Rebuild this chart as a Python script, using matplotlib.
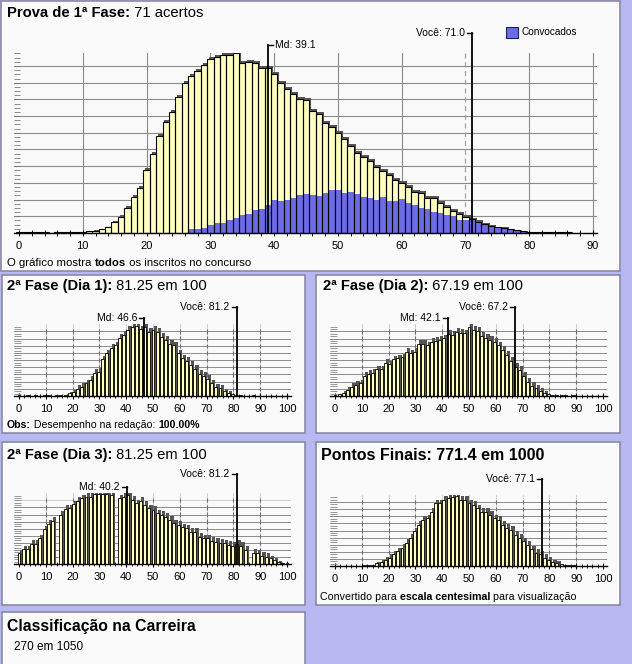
import matplotlib
matplotlib.use('Agg')
import matplotlib.pyplot as plt
from matplotlib.patches import Rectangle
from matplotlib.ticker import MultipleLocator, FixedLocator
import numpy as np

plt.rcParams['font.family'] = ['Liberation Sans', 'DejaVu Sans']

# ---------------- data ----------------
main_scores = list(range(87))
main_total = [0.03, 0.08, 0.03, 0.03, 0.08, 0.02, 0.04, 0.06, 0.06, 0.06,
              0.08, 0.10, 0.14, 0.22, 0.34, 0.64, 0.98, 1.52, 2.15, 2.67,
              3.77, 4.71, 5.81, 6.65, 7.23, 8.12, 8.96, 9.38, 9.70, 10.04,
              10.40, 10.54, 10.64, 10.68, 10.76, 10.16, 10.22, 10.16, 9.86, 9.86,
              9.52, 8.96, 8.62, 8.30, 8.00, 7.96, 7.30, 7.10, 6.60, 6.33,
              6.00, 5.63, 5.23, 4.77, 4.53, 4.30, 3.95, 3.74, 3.47, 3.17,
              3.01, 2.77, 2.47, 2.37, 2.07, 2.07, 1.78, 1.58, 1.34, 1.14,
              0.94, 0.82, 0.68, 0.54, 0.42, 0.34, 0.32, 0.22, 0.18, 0.12,
              0.08, 0.05, 0.04, 0.04, 0.04, 0.03, 0.03]
main_conv = [0] * 27 + [0.22, 0.25, 0.30,
             0.45, 0.58, 0.62, 0.80, 0.90, 1.08, 1.15, 1.35, 1.45, 1.68,
             2.00, 1.92, 1.98, 2.08, 2.28, 2.34, 2.28, 2.20, 2.42, 2.55,
             2.55, 2.38, 2.47, 2.33, 2.16, 2.12, 1.97, 2.16, 1.93, 1.92,
             2.04, 1.78, 1.68, 1.48, 1.42, 1.28, 1.22, 1.08, 1.02, 0.80,
             0.78, 0.82, 0.68, 0.54, 0.42, 0.34, 0.32, 0.22, 0.18, 0.12,
             0.08, 0.05, 0.04, 0.04, 0.04, 0.03, 0.03]
main_md, main_you = 39.1, 71.0

bin_step = 1.5625
dia1 = [0.10, 0.05, 0.08, 0.05, 0.08, 0.05, 0.10, 0.10, 0.06, 0.10,
        0.08, 0.20, 0.37, 0.60, 0.98, 1.30, 1.77, 2.30, 3.26, 3.40,
        5.10, 5.95, 6.74, 7.10, 8.14, 8.50, 9.20, 9.58, 9.77, 9.30,
        9.58, 8.98, 9.20, 8.98, 8.28, 7.80, 7.26, 7.10, 5.95, 5.26,
        4.93, 4.33, 3.77, 3.07, 2.80, 2.37, 1.77, 1.20, 1.07, 0.65,
        0.47, 0.23, 0.14, 0.08, 0.06, 0.05, 0.08, 0.05, 0.04, 0.06,
        0.05, 0.04, 0.03, 0.03, 0.02]
dia2 = [0.10, 0.28, 0.47, 0.84, 1.30, 1.53, 1.77, 2.80, 3.07, 3.26,
        3.72, 3.72, 4.65, 4.42, 5.12, 5.26, 5.40, 6.19, 5.95, 6.19,
        7.26, 7.26, 7.10, 7.58, 7.72, 7.81, 8.05, 8.65, 8.50, 8.98,
        8.84, 8.74, 9.67, 9.20, 9.07, 8.37, 8.14, 7.81, 7.58, 7.10,
        6.42, 5.72, 4.93, 4.10, 3.63, 2.80, 2.00, 1.40, 1.07, 0.74,
        0.47, 0.28, 0.14, 0.10, 0.08, 0.08, 0.06, 0.08, 0.06, 0.05,
        0.05, 0.04, 0.04, 0.03, 0.03]
dia3 = [1.50, 2.07, 2.07, 2.83, 2.83, 3.63, 4.90, 5.66, 6.08, 0.00,
        6.93, 7.78, 7.88, 8.44, 8.92, 9.29, 9.53, 9.53, 9.90, 9.90,
        9.90, 9.86, 9.76, 0.00, 9.29, 9.53, 9.76, 9.06, 8.58, 8.92,
        8.35, 7.88, 7.64, 7.17, 6.93, 6.70, 6.23, 5.75, 5.52, 5.19,
        5.05, 4.58, 4.58, 3.87, 3.63, 3.63, 3.25, 3.16, 3.02, 2.92,
        2.69, 2.55, 2.83, 2.55, 1.98, 0.00, 1.60, 1.50, 1.13, 1.04,
        0.80, 0.57, 0.33, 0.19, 0.10]
final = [0.05, 0.05, 0.05, 0.05, 0.05, 0.05, 0.05, 0.08, 0.14, 0.20,
         0.37, 0.56, 0.80, 1.16, 1.63, 2.10, 2.56, 3.26, 3.95, 4.88,
         5.80, 6.50, 6.74, 7.67, 8.84, 8.84, 9.30, 9.53, 9.77, 9.86,
         9.30, 9.30, 8.84, 8.60, 8.14, 7.67, 7.67, 7.20, 6.74, 6.50,
         5.80, 5.35, 5.10, 4.42, 3.95, 3.50, 3.00, 2.33, 1.86, 1.63,
         1.16, 0.84, 0.60, 0.47, 0.28, 0.19, 0.10, 0.08, 0.06, 0.05,
         0.05, 0.05, 0.04, 0.04, 0.03]

# ---------------- style ----------------
W, H = 632, 664
BG = '#b7b7f2'
PANEL = '#fafafa'
EDGE = '#8a8aa6'
YEL = '#ffffc0'
BLUE = '#6b6be6'
SHADOW = '#555555'
GRID = '#8c8c8c'

fig = plt.figure(figsize=(W / 100, H / 100), dpi=100)
fig.patch.set_facecolor(BG)
renderer = fig.canvas.get_renderer()


def panel(x0, y0, x1, y1):
    fig.patches.append(Rectangle((x0 / W, 1 - y1 / H), (x1 - x0) / W, (y1 - y0) / H,
                                 transform=fig.transFigure, facecolor=PANEL,
                                 edgecolor=EDGE, lw=1.2, zorder=-5))


def add_ax(left, top, right, bottom):
    ax = fig.add_axes([left / W, 1 - bottom / H, (right - left) / W, (bottom - top) / H])
    ax.patch.set_alpha(0)
    return ax


def ftext(x, y, s, **kw):
    return fig.text(x / W, 1 - y / H, s, **kw)


def rich(x, y, parts, size):
    for s, w in parts:
        t = ftext(x, y, s, fontsize=size, weight=w, va='center', ha='left')
        bb = t.get_window_extent(renderer)
        x = bb.x1


def marker_line(ax, x, ytop, label, side, scale):
    ax.plot([x, x], [0, ytop], color='black', lw=1.3, clip_on=False, zorder=8)
    s = 5 / scale
    if side == 'left':
        ax.plot([x - s, x], [ytop, ytop], color='black', lw=1.0, clip_on=False, zorder=8)
        ax.text(x - s - 2 / scale, ytop, label, ha='right', va='center', fontsize=7.5, zorder=8)
    else:
        ax.plot([x, x + s], [ytop, ytop], color='black', lw=1.0, clip_on=False, zorder=8)
        ax.text(x + s + 2 / scale, ytop, label, ha='left', va='center', fontsize=7.5, zorder=8)


# ---------------- panels ----------------
panel(1, 1, 620, 271)
panel(2, 275, 305, 433)
panel(316, 275, 620, 433)
panel(2, 442, 305, 605)
panel(316, 442, 620, 605)
panel(2, 612, 305, 680)

# ---------------- main chart ----------------
base, unit = 233.0, 16.7
xs = 574 / 90.0
ax = add_ax(14, base - 10.8 * unit, 597, base)
ax.set_xlim(-5 / xs, 90 + 4 / xs)
ax.set_ylim(0, 10.8)
v = np.array(main_scores)
tot = np.array(main_total)
conv = np.array(main_conv)
for k in range(1, 11):
    ax.axhline(k, color=GRID, lw=0.8, zorder=1)
for g in range(10, 100, 10):
    if g == 70:
        ax.axvline(g, color='#a0a0a0', lw=0.9, ls=(0, (4, 3)), zorder=1)
    else:
        ax.axvline(g, color=GRID, lw=0.8, zorder=1)
ax.bar(v + 0.3, tot + 0.12 * np.minimum(tot, 1), width=1, color=SHADOW, lw=0, zorder=2)
ax.bar(v, tot, width=1, color=YEL, lw=0, zorder=3)
ax.bar(v, conv, width=1, color=BLUE, lw=0, zorder=4)
ax.bar(v, tot, width=1, fill=False, edgecolor='black', lw=0.8, zorder=5)
for sp in ['top', 'right', 'left']:
    ax.spines[sp].set_visible(False)
ax.spines['bottom'].set_color('black')
ax.spines['bottom'].set_linewidth(1.0)
ax.spines['bottom'].set_zorder(6)
ax.set_xticks(range(0, 91, 10))
ax.xaxis.set_minor_locator(MultipleLocator(2))
ax.tick_params(axis='x', which='major', direction='inout', length=5, width=0.8,
               labelsize=8, pad=3)
ax.tick_params(axis='x', which='minor', direction='inout', length=4, width=0.7)
ax.yaxis.set_major_locator(FixedLocator(np.arange(0.25, 10.8, 0.25)))
ax.tick_params(axis='y', which='major', direction='in', length=4, width=0.6,
               color='#777777', labelleft=False)
marker_line(ax, main_md, (base - 45) / unit, 'Md: 39.1', 'right', xs)
marker_line(ax, main_you, (base - 33) / unit, 'Você: 71.0', 'left', xs)

rich(7, 13, [('Prova de 1ª Fase:', 'bold'), (' 71 acertos', 'normal')], 10.6)
rich(7, 263, [('O gráfico mostra ', 'normal'), ('todos', 'bold'),
              (' os inscritos no concurso', 'normal')], 8.2)
fig.patches.append(Rectangle((506 / W, 1 - 38 / H), 12 / W, 11 / H, transform=fig.transFigure,
                             facecolor=BLUE, edgecolor='#202060', lw=0.8, zorder=5))
ftext(521, 32, 'Convocados', fontsize=7.2, va='center')


# ---------------- small charts ----------------
def small(xoff, base, unit, heights, md, md_top, you, you_top, light=None):
    sc = 268 / 100.0
    a = add_ax(14 + xoff, base - 10 * unit, 291 + xoff, base)
    a.set_xlim(-5 / sc, 100 + 4 / sc)
    a.set_ylim(0, 10)
    for k in range(1, 10):
        a.axhline(k, color='#d0d0d0' if k == light else GRID, lw=0.7, zorder=1)
    for g in range(10, 100, 10):
        a.axvline(g, color='#c8c8c8', lw=0.6, zorder=1)
        a.vlines([g] * 9, np.arange(1, 10) - 0.3, np.arange(1, 10) + 0.3,
                 color='#707070', lw=0.8, zorder=1)
    c = np.arange(len(heights)) * bin_step
    h = np.array(heights)
    sh = np.where(h > 0.3, h + 0.5 * np.minimum(h, 1), 0)
    a.bar(c + 0.8, sh, width=1.2, color=SHADOW, lw=0, zorder=2)
    a.bar(c, h, width=1.1, color=YEL, edgecolor='black', lw=0.6, zorder=3)
    for sp in ['top', 'right', 'left']:
        a.spines[sp].set_visible(False)
    a.spines['bottom'].set_linewidth(1.0)
    a.spines['bottom'].set_zorder(6)
    a.set_xticks(range(0, 101, 10))
    a.xaxis.set_minor_locator(MultipleLocator(2))
    a.tick_params(axis='x', which='major', direction='inout', length=5, width=0.8,
                  labelsize=8, pad=3)
    a.tick_params(axis='x', which='minor', direction='inout', length=3, width=0.6)
    a.yaxis.set_major_locator(FixedLocator(np.arange(1 / 3, 10, 1 / 3)))
    a.tick_params(axis='y', which='major', direction='in', length=5, width=0.6,
                  color='#888888', labelleft=False)
    if md is not None:
        marker_line(a, md, (base - md_top) / unit, f'Md: {md}', 'left', sc)
    marker_line(a, you, (base - you_top) / unit, f'Você: {you}', 'left', sc)
    return a


small(0, 396, 7.17, dia1, 46.6, 318, 81.2, 307)
rich(7, 286, [('2ª Fase (Dia 1):', 'bold'), (' 81.25 em 100', 'normal')], 10.6)
rich(7, 425, [('Obs:', 'bold'), (' Desempenho na redação: ', 'normal'), ('100.00%', 'bold')], 7.6)

small(316, 396, 7.17, dia2, 42.1, 318, 67.2, 307)
rich(323, 286, [('2ª Fase (Dia 2):', 'bold'), (' 67.19 em 100', 'normal')], 10.6)

small(0, 564, 7.07, dia3, 40.2, 487, 81.2, 474, light=9)
rich(7, 455, [('2ª Fase (Dia 3):', 'bold'), (' 81.25 em 100', 'normal')], 10.6)

small(316, 566, 7.1, final, None, None, 77.1, 479)
rich(321, 455, [('Pontos Finais: 771.4 em 1000', 'bold')], 11.5)
rich(320, 597, [('Convertido para ', 'normal'), ('escala centesimal', 'bold'),
                (' para visualização', 'normal')], 7.7)

rich(7, 627, [('Classificação na Carreira', 'bold')], 11.3)
rich(14, 647, [('270 em 1050', 'normal')], 8.5)

fig.savefig('out.png', dpi=100, facecolor=BG)
